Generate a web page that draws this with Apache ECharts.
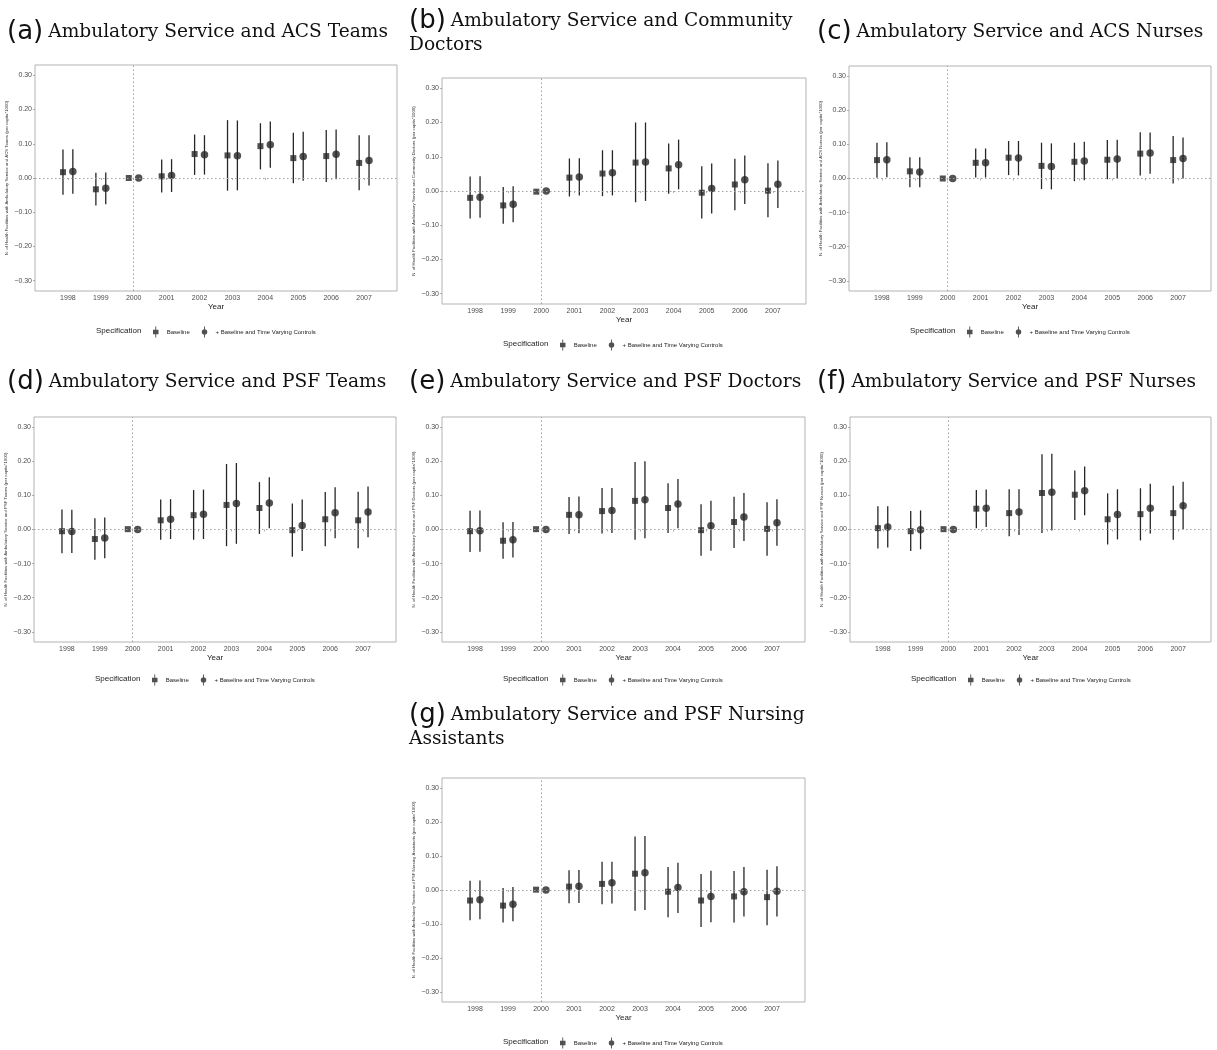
<!DOCTYPE html>
<html>
<head>
<meta charset="utf-8">
<script src="https://cdn.jsdelivr.net/npm/echarts@6/dist/echarts.min.js"></script>
<style>
html,body{margin:0;padding:0;background:#fff;}
#chart{width:1217px;height:1050px;}
</style>
</head>
<body>
<div id="chart"></div>
<script>
// ---------- data ----------
const years = [1998, 1999, 2000, 2001, 2002, 2003, 2004, 2005, 2006, 2007];
const yTicks = [-0.3, -0.2, -0.1, 0.0, 0.1, 0.2, 0.3];
const specNames = ['Baseline', '+ Baseline and Time Varying Controls'];

const panelLetters = ['(a)', '(b)', '(c)', '(d)', '(e)', '(f)', '(g)'];
const panelTitles = [
  ['Ambulatory Service and ACS Teams'],
  ['Ambulatory Service and Community', 'Doctors'],
  ['Ambulatory Service and ACS Nurses'],
  ['Ambulatory Service and PSF Teams'],
  ['Ambulatory Service and PSF Doctors'],
  ['Ambulatory Service and PSF Nurses'],
  ['Ambulatory Service and PSF Nursing', 'Assistants']
];
const yTitles = [
  'N. of Health Facilities with Ambulatory Service and ACS Teams (per capita*1000)',
  'N. of Health Facilities with Ambulatory Service and Community Doctors (per capita*1000)',
  'N. of Health Facilities with Ambulatory Service and ACS Nurses (per capita*1000)',
  'N. of Health Facilities with Ambulatory Service and PSF Teams (per capita*1000)',
  'N. of Health Facilities with Ambulatory Service and PSF Doctors (per capita*1000)',
  'N. of Health Facilities with Ambulatory Service and PSF Nurses (per capita*1000)',
  'N. of Health Facilities with Ambulatory Service and PSF Nursing Assistants (per capita*1000)'
];

// (a) ACS Teams
const a_base_est = [0.017, -0.033, 0, 0.005, 0.070, 0.066, 0.093, 0.058, 0.064, 0.044];
const a_base_lo  = [-0.049, -0.080, null, -0.042, 0.009, -0.037, 0.025, -0.015, -0.012, -0.036];
const a_base_hi  = [0.083, 0.015, null, 0.054, 0.127, 0.169, 0.160, 0.132, 0.140, 0.125];
const a_ctrl_est = [0.019, -0.030, 0, 0.007, 0.068, 0.065, 0.097, 0.063, 0.069, 0.051];
const a_ctrl_lo  = [-0.046, -0.077, null, -0.041, 0.010, -0.036, 0.030, -0.008, -0.004, -0.022];
const a_ctrl_hi  = [0.084, 0.016, null, 0.055, 0.125, 0.168, 0.165, 0.135, 0.142, 0.125];

// (b) Community Doctors
const b_base_est = [-0.020, -0.042, -0.002, 0.039, 0.051, 0.083, 0.066, -0.005, 0.019, 0.001];
const b_base_lo  = [-0.080, -0.096, null, -0.016, -0.015, -0.033, -0.008, -0.080, -0.056, -0.077];
const b_base_hi  = [0.042, 0.012, null, 0.095, 0.119, 0.200, 0.139, 0.072, 0.094, 0.081];
const b_ctrl_est = [-0.018, -0.039, 0, 0.041, 0.053, 0.085, 0.077, 0.007, 0.033, 0.020];
const b_ctrl_lo  = [-0.078, -0.091, null, -0.013, -0.013, -0.029, 0.005, -0.066, -0.038, -0.050];
const b_ctrl_hi  = [0.043, 0.014, null, 0.096, 0.119, 0.200, 0.150, 0.080, 0.104, 0.089];

// (c) ACS Nurses
const c_base_est = [0.054, 0.021, 0, 0.046, 0.061, 0.037, 0.049, 0.055, 0.073, 0.054];
const c_base_lo  = [0.002, -0.026, null, 0.003, 0.010, -0.031, -0.008, -0.002, 0.009, -0.015];
const c_base_hi  = [0.105, 0.062, null, 0.088, 0.110, 0.105, 0.105, 0.113, 0.136, 0.125];
const c_ctrl_est = [0.055, 0.019, 0, 0.046, 0.060, 0.035, 0.051, 0.057, 0.075, 0.059];
const c_ctrl_lo  = [0.004, -0.026, null, 0.003, 0.009, -0.032, -0.005, 0.000, 0.014, 0.000];
const c_ctrl_hi  = [0.106, 0.062, null, 0.088, 0.110, 0.103, 0.108, 0.114, 0.135, 0.120];

// (d) PSF Teams
const d_base_est = [-0.005, -0.028, 0.001, 0.027, 0.042, 0.072, 0.063, -0.002, 0.030, 0.027];
const d_base_lo  = [-0.070, -0.089, null, -0.030, -0.030, -0.049, -0.013, -0.080, -0.049, -0.055];
const d_base_hi  = [0.059, 0.033, null, 0.088, 0.116, 0.192, 0.139, 0.076, 0.110, 0.111];
const d_ctrl_est = [-0.006, -0.025, 0, 0.030, 0.045, 0.076, 0.078, 0.012, 0.049, 0.051];
const d_ctrl_lo  = [-0.069, -0.084, null, -0.028, -0.028, -0.042, 0.004, -0.063, -0.026, -0.023];
const d_ctrl_hi  = [0.058, 0.035, null, 0.089, 0.117, 0.195, 0.153, 0.088, 0.124, 0.126];

// (e) PSF Doctors
const e_base_est = [-0.005, -0.033, 0.001, 0.043, 0.054, 0.084, 0.063, -0.002, 0.022, 0.002];
const e_base_lo  = [-0.066, -0.086, null, -0.013, -0.012, -0.030, -0.010, -0.077, -0.054, -0.077];
const e_base_hi  = [0.055, 0.021, null, 0.095, 0.122, 0.198, 0.136, 0.074, 0.096, 0.080];
const e_ctrl_est = [-0.004, -0.030, 0, 0.043, 0.056, 0.087, 0.075, 0.011, 0.037, 0.020];
const e_ctrl_lo  = [-0.065, -0.082, null, -0.011, -0.010, -0.026, 0.004, -0.062, -0.034, -0.048];
const e_ctrl_hi  = [0.056, 0.022, null, 0.097, 0.122, 0.200, 0.148, 0.084, 0.107, 0.089];

// (f) PSF Nurses
const f_base_est = [0.004, -0.005, 0.001, 0.061, 0.048, 0.107, 0.102, 0.030, 0.045, 0.048];
const f_base_lo  = [-0.056, -0.063, null, 0.004, -0.020, -0.010, 0.028, -0.044, -0.032, -0.030];
const f_base_hi  = [0.068, 0.054, null, 0.116, 0.118, 0.221, 0.173, 0.106, 0.121, 0.128];
const f_ctrl_est = [0.007, -0.001, 0, 0.062, 0.051, 0.109, 0.114, 0.044, 0.062, 0.070];
const f_ctrl_lo  = [-0.053, -0.058, null, 0.007, -0.016, -0.003, 0.042, -0.029, -0.012, 0.001];
const f_ctrl_hi  = [0.068, 0.056, null, 0.117, 0.118, 0.222, 0.185, 0.118, 0.134, 0.140];

// (g) PSF Nursing Assistants
const g_base_est = [-0.031, -0.046, 0.001, 0.010, 0.018, 0.048, -0.005, -0.031, -0.019, -0.021];
const g_base_lo  = [-0.089, -0.096, null, -0.039, -0.042, -0.061, -0.080, -0.109, -0.096, -0.104];
const g_base_hi  = [0.027, 0.006, null, 0.058, 0.083, 0.158, 0.068, 0.047, 0.056, 0.060];
const g_ctrl_est = [-0.029, -0.042, 0, 0.011, 0.021, 0.051, 0.007, -0.019, -0.005, -0.004];
const g_ctrl_lo  = [-0.086, -0.092, null, -0.038, -0.040, -0.059, -0.068, -0.095, -0.078, -0.078];
const g_ctrl_hi  = [0.028, 0.009, null, 0.059, 0.083, 0.159, 0.080, 0.057, 0.068, 0.070];

const panelData = [
  [a_base_est, a_base_lo, a_base_hi, a_ctrl_est, a_ctrl_lo, a_ctrl_hi],
  [b_base_est, b_base_lo, b_base_hi, b_ctrl_est, b_ctrl_lo, b_ctrl_hi],
  [c_base_est, c_base_lo, c_base_hi, c_ctrl_est, c_ctrl_lo, c_ctrl_hi],
  [d_base_est, d_base_lo, d_base_hi, d_ctrl_est, d_ctrl_lo, d_ctrl_hi],
  [e_base_est, e_base_lo, e_base_hi, e_ctrl_est, e_ctrl_lo, e_ctrl_hi],
  [f_base_est, f_base_lo, f_base_hi, f_ctrl_est, f_ctrl_lo, f_ctrl_hi],
  [g_base_est, g_base_lo, g_base_hi, g_ctrl_est, g_ctrl_lo, g_ctrl_hi]
];

// ---------- layout ----------
const grids = [
  {left: 35,  top: 65,  width: 362, height: 226},
  {left: 442, top: 78,  width: 364, height: 226},
  {left: 849, top: 66,  width: 362, height: 225},
  {left: 34,  top: 417, width: 362, height: 225},
  {left: 442, top: 417, width: 363, height: 225},
  {left: 850, top: 417, width: 361, height: 225},
  {left: 442, top: 778, width: 363, height: 224}
];
const titlePos = [
  {left: 7,   top: 20},
  {left: 409, top: 9},
  {left: 817, top: 20},
  {left: 7,   top: 370},
  {left: 409, top: 370},
  {left: 817, top: 370},
  {left: 409, top: 703}
];
const legendY = [332, 345, 332, 680, 680, 680, 1043];
const DODGE = 0.15;
const INK = '#262626';

const iconSquare = 'path://M4.5,0 L5.5,0 L5.5,3.5 L8,3.5 L8,8.5 L5.5,8.5 L5.5,12 L4.5,12 L4.5,8.5 L2,8.5 L2,3.5 L4.5,3.5 Z';
const iconCircle = 'path://M4.5,0 L5.5,0 L5.5,12 L4.5,12 Z M2,6 A3,3 0 1 1 8,6 A3,3 0 1 1 2,6 Z';

function fmtY(v) {
  const s = Math.abs(v) < 1e-9 ? '0.00' : v.toFixed(2);
  return s.replace('-', '\u2212');
}
function fmtX(v) { return String(Math.round(v)); }

function errRender(params, api) {
  const lo = api.value(1), hi = api.value(2);
  if (lo == null || hi == null || isNaN(lo) || isNaN(hi)) return null;
  const p1 = api.coord([api.value(0), lo]);
  const p2 = api.coord([api.value(0), hi]);
  return {
    type: 'line',
    shape: {x1: p1[0], y1: p1[1], x2: p2[0], y2: p2[1]},
    style: {stroke: INK, lineWidth: 1.3}
  };
}

const option = {
  backgroundColor: '#ffffff',
  animation: false,
  title: [],
  legend: [],
  grid: [],
  xAxis: [],
  yAxis: [],
  series: []
};

for (let i = 0; i < 7; i++) {
  const g = grids[i];
  option.grid.push({
    left: g.left, top: g.top, width: g.width, height: g.height,
    show: true, borderColor: '#b3b3b3', borderWidth: 1, backgroundColor: '#ffffff'
  });
  option.xAxis.push({
    gridIndex: i, type: 'value', min: 1997, max: 2008, interval: 1,
    axisLine: {show: false},
    splitLine: {show: false},
    axisTick: {show: true, length: 2, customValues: years, lineStyle: {color: '#9a9a9a', width: 0.8}},
    axisLabel: {customValues: years, formatter: fmtX, fontSize: 7, color: '#4d4d4d', margin: 4, fontFamily: 'Liberation Sans'},
    name: 'Year', nameLocation: 'middle', nameGap: 12,
    nameTextStyle: {fontSize: 8, color: '#222', fontFamily: 'Liberation Sans'}
  });
  option.yAxis.push({
    gridIndex: i, type: 'value', min: -0.33, max: 0.33,
    axisLine: {show: false},
    splitLine: {show: false},
    axisTick: {show: true, length: 2, customValues: yTicks, lineStyle: {color: '#9a9a9a', width: 0.8}},
    axisLabel: {customValues: yTicks, formatter: fmtY, fontSize: 7, color: '#4d4d4d', margin: 3, fontFamily: 'Liberation Sans'},
    name: yTitles[i], nameLocation: 'middle', nameRotate: 90, nameGap: 26,
    nameTextStyle: {fontSize: 4.3, color: '#333', fontFamily: 'Liberation Sans'}
  });

  const [be, bl, bh, ce, cl, ch] = panelData[i];
  option.series.push({
    type: 'custom', name: 'ci_base_' + i, xAxisIndex: i, yAxisIndex: i,
    renderItem: errRender, silent: true,
    encode: {x: 0, y: [1, 2]},
    data: years.map((y, k) => [y - DODGE, bl[k], bh[k]]),
    z: 2
  });
  option.series.push({
    type: 'custom', name: 'ci_ctrl_' + i, xAxisIndex: i, yAxisIndex: i,
    renderItem: errRender, silent: true,
    encode: {x: 0, y: [1, 2]},
    data: years.map((y, k) => [y + DODGE, cl[k], ch[k]]),
    z: 2
  });
  option.series.push({
    type: 'scatter', name: specNames[0], xAxisIndex: i, yAxisIndex: i,
    symbol: 'rect', symbolSize: 6,
    itemStyle: {color: INK},
    data: years.map((y, k) => [y - DODGE, be[k]]),
    z: 3,
    markLine: {
      silent: true, symbol: ['none', 'none'],
      label: {show: false},
      lineStyle: {type: [1.5, 2.5], color: '#a0a0a0', width: 1},
      data: [{yAxis: 0}, {xAxis: 2000}]
    }
  });
  option.series.push({
    type: 'scatter', name: specNames[1], xAxisIndex: i, yAxisIndex: i,
    symbol: 'circle', symbolSize: 7.5,
    itemStyle: {color: INK},
    data: years.map((y, k) => [y + DODGE, ce[k]]),
    z: 3
  });

  // panel title
  const tp = titlePos[i];
  const lines = panelTitles[i];
  let txt = '{p|' + panelLetters[i] + '} {t|' + lines[0] + '}';
  for (let l = 1; l < lines.length; l++) txt += '\n{t|' + lines[l] + '}';
  option.title.push({
    left: tp.left, top: tp.top, padding: 0,
    text: txt,
    textStyle: {
      fontWeight: 'normal',
      rich: {
        p: {fontFamily: 'DejaVu Sans', fontSize: 26, fontWeight: 'normal', color: '#111', lineHeight: 24},
        t: {fontFamily: 'DejaVu Serif', fontSize: 18.6, fontWeight: 'normal', color: '#111', lineHeight: 24}
      }
    }
  });
  // legend title
  option.title.push({
    left: g.left + 61, top: legendY[i] - 5, padding: 0,
    text: 'Specification',
    textStyle: {fontFamily: 'Liberation Sans', fontSize: 8, fontWeight: 'normal', color: '#222'}
  });
  option.legend.push({
    left: g.left + 118, top: legendY[i] - 5.5, padding: 0,
    selectedMode: false, orient: 'horizontal',
    itemWidth: 6, itemHeight: 11, itemGap: 12,
    data: [{name: specNames[0], icon: iconSquare}, {name: specNames[1], icon: iconCircle}],
    itemStyle: {color: INK, borderWidth: 0},
    textStyle: {fontFamily: 'Liberation Sans', fontSize: 6, color: '#222', padding: [0, 0, 0, 3]}
  });
}

const chart = echarts.init(document.getElementById('chart'), null, {renderer: 'canvas'});
chart.setOption(option);
</script>
</body>
</html>
